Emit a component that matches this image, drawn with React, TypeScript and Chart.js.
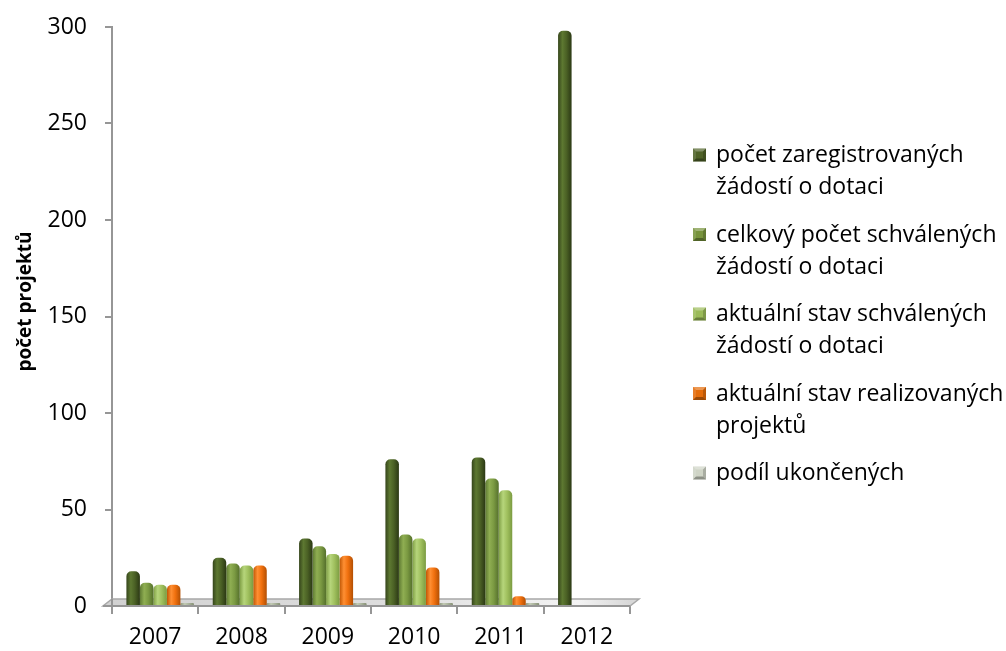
import React, { useEffect, useRef } from "react";
import { Chart, registerables } from "chart.js";

Chart.register(...registerables);

// ---------- data ----------
const years = ["2007", "2008", "2009", "2010", "2011", "2012"];
const registered = [18, 25, 35, 76, 77, 298];
const approvedTotal = [12, 22, 31, 37, 66, null];
const approvedCurrent = [11, 21, 27, 35, 60, null];
const realized = [11, 21, 26, 20, 5, null];
const completedShare = [1, 1, 1, 1, 1, null];
const seriesValues = [registered, approvedTotal, approvedCurrent, realized, completedShare];
const seriesLabels: string[][] = [
  ["počet zaregistrovaných", "žádostí o dotaci"],
  ["celkový počet schválených", "žádostí o dotaci"],
  ["aktuální stav schválených", "žádostí o dotaci"],
  ["aktuální stav realizovaných", "projektů"],
  ["podíl ukončených"],
];
const yTicks = [0, 50, 100, 150, 200, 250, 300];
const yTitle = "počet projektů";

// ---------- styles ----------
const baseColors = ["#4f6228", "#77933c", "#9bbb59", "#e46c0a", "#cfd4c6"];
const cylinderShades = [
  ["#35451b", "#5d7831", "#4b6125", "#2b3814"],
  ["#5f7b33", "#8fae52", "#7b9a42", "#55702c"],
  ["#80a046", "#b6d57b", "#a0c05e", "#7b9b41"],
  ["#c05604", "#ff8f33", "#f0700e", "#b24f03"],
  ["#8d977c", "#c2cab4", "#aab39c", "#858f74"],
];
const axisColor = "#969696";
const FONT = '"Open Sans", "Noto Sans", sans-serif';

function cylinderFill(i: number) {
  return (c: any) => {
    const el = c.element;
    if (!el || !isFinite(el.x) || !isFinite(el.width) || !el.width) return baseColors[i];
    const s = cylinderShades[i];
    const g = c.chart.ctx.createLinearGradient(el.x - el.width / 2, 0, el.x + el.width / 2, 0);
    g.addColorStop(0, s[0]);
    g.addColorStop(0.32, s[1]);
    g.addColorStop(0.62, s[2]);
    g.addColorStop(1, s[3]);
    return g;
  };
}

function drawMarker(ctx: CanvasRenderingContext2D, x: number, y: number, s: number, color: string) {
  ctx.fillStyle = color;
  ctx.fillRect(x, y, s, s);
  const cx = x + s / 2, cy = y + s / 2;
  const tri = (pts: number[][], fill: string) => {
    ctx.beginPath();
    ctx.moveTo(pts[0][0], pts[0][1]);
    for (let k = 1; k < pts.length; k++) ctx.lineTo(pts[k][0], pts[k][1]);
    ctx.closePath();
    ctx.fillStyle = fill;
    ctx.fill();
  };
  tri([[x, y], [x + s, y], [cx, cy]], "rgba(255,255,255,0.30)");
  tri([[x, y], [x, y + s], [cx, cy]], "rgba(255,255,255,0.12)");
  tri([[x + s, y], [x + s, y + s], [cx, cy]], "rgba(0,0,0,0.18)");
  tri([[x, y + s], [x + s, y + s], [cx, cy]], "rgba(0,0,0,0.32)");
  ctx.fillStyle = color;
  ctx.fillRect(x + 3, y + 3, s - 6, s - 6);
}

const decorPlugin = {
  id: "decor",
  beforeDatasetsDraw(chart: any) {
    const { ctx, chartArea: a, scales } = chart;
    const y0 = scales.y.getPixelForValue(0);
    const dx = 9, dy = 7;
    ctx.save();
    const g = ctx.createLinearGradient(a.left, 0, a.right, 0);
    g.addColorStop(0, "#d2d2d2");
    g.addColorStop(0.55, "#dedede");
    g.addColorStop(0.9, "#f4f4f4");
    g.addColorStop(1, "#d8d8d8");
    ctx.beginPath();
    ctx.moveTo(a.left - dx, y0);
    ctx.lineTo(a.right, y0);
    ctx.lineTo(a.right + dx, y0 - dy);
    ctx.lineTo(a.left, y0 - dy);
    ctx.closePath();
    ctx.fillStyle = g;
    ctx.fill();
    ctx.lineWidth = 1.5;
    ctx.strokeStyle = "#a8a8a8";
    ctx.stroke();
    ctx.beginPath();
    ctx.moveTo(a.left - dx, y0);
    ctx.lineTo(a.right, y0);
    ctx.lineWidth = 2;
    ctx.strokeStyle = axisColor;
    ctx.stroke();
    ctx.beginPath();
    ctx.moveTo(a.left, y0 - dy);
    ctx.lineTo(a.left, y0 + 1);
    ctx.stroke();
    ctx.restore();
    ctx.save();
    ctx.translate(5, 0);
  },
  afterDatasetsDraw(chart: any) {
    const { ctx, chartArea: a } = chart;
    ctx.restore();
    ctx.save();
    const boxX = a.right + 63;
    const textX = boxX + 23;
    const box = 13;
    ctx.font = `23px ${FONT}`;
    ctx.textAlign = "left";
    ctx.textBaseline = "alphabetic";
    chart.data.datasets.forEach((ds: any, i: number) => {
      const base = 162 + i * 79.5;
      drawMarker(ctx, boxX, base - 13.5, box, baseColors[i]);
      ctx.fillStyle = "#000";
      seriesLabels[i].forEach((line, k) => ctx.fillText(line, textX, base + k * 32));
    });
    ctx.translate(31, (a.top + a.bottom) / 2 - 15);
    ctx.rotate(-Math.PI / 2);
    ctx.font = `bold 19px ${FONT}`;
    ctx.textAlign = "center";
    ctx.fillStyle = "#000";
    ctx.fillText(yTitle, 0, 0);
    ctx.restore();
  },
};

export default function App() {
  const ref = useRef<HTMLCanvasElement>(null);
  useEffect(() => {
    if (!ref.current) return;
    let alive = true;
    const chart = new Chart(ref.current, {
      type: "bar",
      data: {
        labels: years,
        datasets: seriesValues.map((vals, i) => ({
          label: seriesLabels[i].join(" "),
          data: vals,
          backgroundColor: cylinderFill(i),
          borderWidth: 0,
          borderRadius: 5,
          minBarLength: i === 4 ? 3 : 0,
        })),
      },
      options: {
        responsive: false,
        animation: false,
        events: [],
        layout: { padding: { top: 27, right: 376, left: 0, bottom: 0 } },
        datasets: { bar: { categoryPercentage: 0.782, barPercentage: 1 } },
        plugins: {
          legend: { display: false },
          tooltip: { enabled: false },
          title: { display: false },
        },
        scales: {
          x: {
            offset: true,
            grid: { drawOnChartArea: false, drawTicks: true, tickLength: 8, color: axisColor, lineWidth: 2, offset: true },
            border: { display: true, color: axisColor, width: 2 },
            ticks: { color: "#000", font: { family: FONT, size: 23 }, padding: 10 },
            afterFit: (s: any) => { s.height = 45; },
          },
          y: {
            min: 0,
            max: 300,
            afterBuildTicks: (s: any) => { s.ticks = yTicks.map((v) => ({ value: v })); },
            grid: { drawOnChartArea: false, drawTicks: true, tickLength: 7, color: axisColor, lineWidth: 2 },
            border: { display: true, color: axisColor, width: 2 },
            ticks: { color: "#000", font: { family: FONT, size: 23 }, padding: 18 },
            afterFit: (s: any) => { s.width = 112; s.paddingTop = 0; s.paddingBottom = 0; },
          },
        },
      },
      plugins: [decorPlugin],
    } as any);
    chart.update("none");
    const fonts: any = (document as any).fonts;
    if (fonts && fonts.load) {
      Promise.all([fonts.load(`23px ${FONT}`), fonts.load(`bold 19px ${FONT}`)])
        .catch(() => {})
        .then(() => { if (alive) chart.update("none"); });
    }
    return () => { alive = false; chart.destroy(); };
  }, []);
  return (
    <div style={{ position: "absolute", left: 0, top: 0, width: 1006, height: 651, background: "#fff" }}>
      <canvas ref={ref} width={1006} height={651} style={{ display: "block" }} />
    </div>
  );
}
